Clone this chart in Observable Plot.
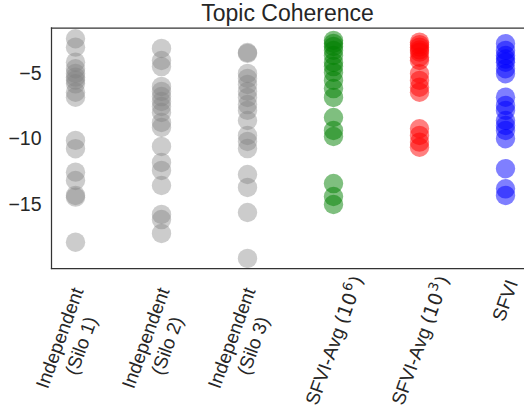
<!DOCTYPE html>
<html><head><meta charset="utf-8">
<script src="https://cdn.jsdelivr.net/npm/d3@7"></script>
<script src="https://cdn.jsdelivr.net/npm/@observablehq/plot@0.6"></script>
<style>
body{margin:0;background:#fff;font-family:"Liberation Sans",Arial,sans-serif;}
#title{height:24px;width:524px;box-sizing:border-box;padding-left:51px;text-align:center;font-size:23px;line-height:26px;color:#262626;white-space:nowrap;}
#chart svg{overflow:visible;display:block;}
</style></head><body>
<div id="title">Topic Coherence</div>
<div id="chart"></div>
<script>
const categories = ["Independent (Silo 1)", "Independent (Silo 2)", "Independent (Silo 3)", "SFVI-Avg (10^6)", "SFVI-Avg (10^3)", "SFVI"];
const tickLabels = ["Independent\n(Silo 1)", "Independent\n(Silo 2)", "Independent\n(Silo 3)", "SFVI-Avg (10^6)", "SFVI-Avg (10^3)", "SFVI"];
const colors = ["gray", "gray", "gray", "green", "red", "blue"];
const opacities = [0.4, 0.4, 0.4, 0.5, 0.5, 0.5];
const yTicks = [-5, -10, -15];

const silo1 = [-2.35, -2.99, -4.14, -4.64, -5.0, -5.28, -5.5, -5.79, -6.43, -6.81, -10.11, -10.74, -12.53, -13.17, -14.31, -14.44, -17.88];
const silo2 = [-3.09, -4.01, -4.47, -5.99, -6.37, -6.76, -7.14, -7.52, -7.98, -8.74, -9.12, -10.57, -11.79, -12.40, -13.55, -15.76, -16.15, -17.21];
const silo3 = [-3.40, -3.47, -5.0, -5.38, -5.84, -6.37, -6.83, -7.37, -7.82, -8.59, -9.73, -10.19, -10.73, -12.71, -13.70, -15.61, -19.12];
const sfviAvg6 = [-2.48, -2.71, -2.94, -3.24, -3.63, -4.16, -4.47, -4.92, -5.53, -6.15, -6.83, -8.36, -9.35, -9.81, -13.40, -14.39, -15.0];
const sfviAvg3 = [-2.61, -2.8, -2.99, -3.2, -3.37, -3.76, -4.01, -5.02, -5.53, -6.05, -6.43, -9.22, -9.73, -10.24, -10.63];
const sfvi = [-2.73, -3.24, -3.63, -3.9, -4.14, -4.64, -5.02, -6.81, -7.44, -7.82, -8.59, -8.97, -9.35, -9.98, -12.27, -13.80, -14.31];

const seriesValues = [silo1, silo2, silo3, sfviAvg6, sfviAvg3, sfvi];
const points = categories.flatMap((c, i) => seriesValues[i].map(v => ({method: c, value: v, color: colors[i], op: opacities[i]})));

const fmt = d => d < 0 ? "\u2212" + Math.abs(d) : String(d);
const spine = {stroke: "#333", strokeWidth: 1.25};

const plot = Plot.plot({
  width: 524, height: 388,
  marginLeft: 51, marginRight: 0, marginTop: 3.5, marginBottom: 144,
  style: {fontFamily: "Liberation Sans, Arial, sans-serif", background: "white", overflow: "visible"},
  x: {type: "point", domain: categories, padding: 0.22, align: 0.56, axis: null},
  y: {domain: [-19.885, -1.53], axis: null},
  color: {type: "identity"},
  marks: [
    Plot.dot(points.filter(d => d.op === 0.4), {x: "method", y: "value", r: 9.7, fill: "color", fillOpacity: 0.4, stroke: null}),
    Plot.dot(points.filter(d => d.op === 0.5), {x: "method", y: "value", r: 9.7, fill: "color", fillOpacity: 0.5, stroke: null}),
    Plot.frame({anchor: "left", ...spine}),
    Plot.frame({anchor: "top", ...spine}),
    Plot.frame({anchor: "bottom", ...spine}),
    Plot.axisY({ticks: yTicks, tickSize: 0, tickPadding: 10, fontSize: 19.5, tickFormat: fmt, label: null, color: "#262626"}),
    Plot.text(categories, {x: d => d, text: (d, i) => tickLabels[i], frameAnchor: "bottom", rotate: -70, textAnchor: "middle", lineAnchor: "middle", lineHeight: 1.2, fontSize: 19, fill: "#262626"})
  ]
});
document.getElementById("chart").append(plot);

const svgNS = "http://www.w3.org/2000/svg";
const sr = plot.getBoundingClientRect();
const xs = plot.scale("x");
const texts = plot.querySelectorAll('g[aria-label="text"] text');
const span = (txt, attrs) => {
  const s = document.createElementNS(svgNS, "tspan");
  s.textContent = txt;
  for (const k in attrs) s.setAttribute(k, attrs[k]);
  return s;
};
texts.forEach((t, i) => {
  const label = tickLabels[i];
  let T = 253, shift = 0;
  if (label.includes("\n")) { T = 260; shift = -4.5; }
  if (label.includes("^")) {
    T = 248;
    const m = label.match(/^(.*)(\()(\d+)\^(\w)(\))$/);
    t.textContent = "";
    t.append(
      span(m[1], {}),
      span(m[2] + m[3], {"font-family": "DejaVu Sans"}),
      span(m[4], {"font-family": "DejaVu Sans", "font-size": "13.3", dy: "-8", dx: "1"}),
      span(m[5], {"font-family": "DejaVu Sans", dy: "8", dx: "1"})
    );
  }
  const r = t.getBoundingClientRect();
  const cx = r.left + r.width / 2 - sr.left;
  const top = r.top - sr.top;
  const tx = xs.apply(categories[i]) + shift;
  t.setAttribute("transform", `translate(${tx - cx},${T - top}) ` + (t.getAttribute("transform") || ""));
});
</script>
</body></html>
